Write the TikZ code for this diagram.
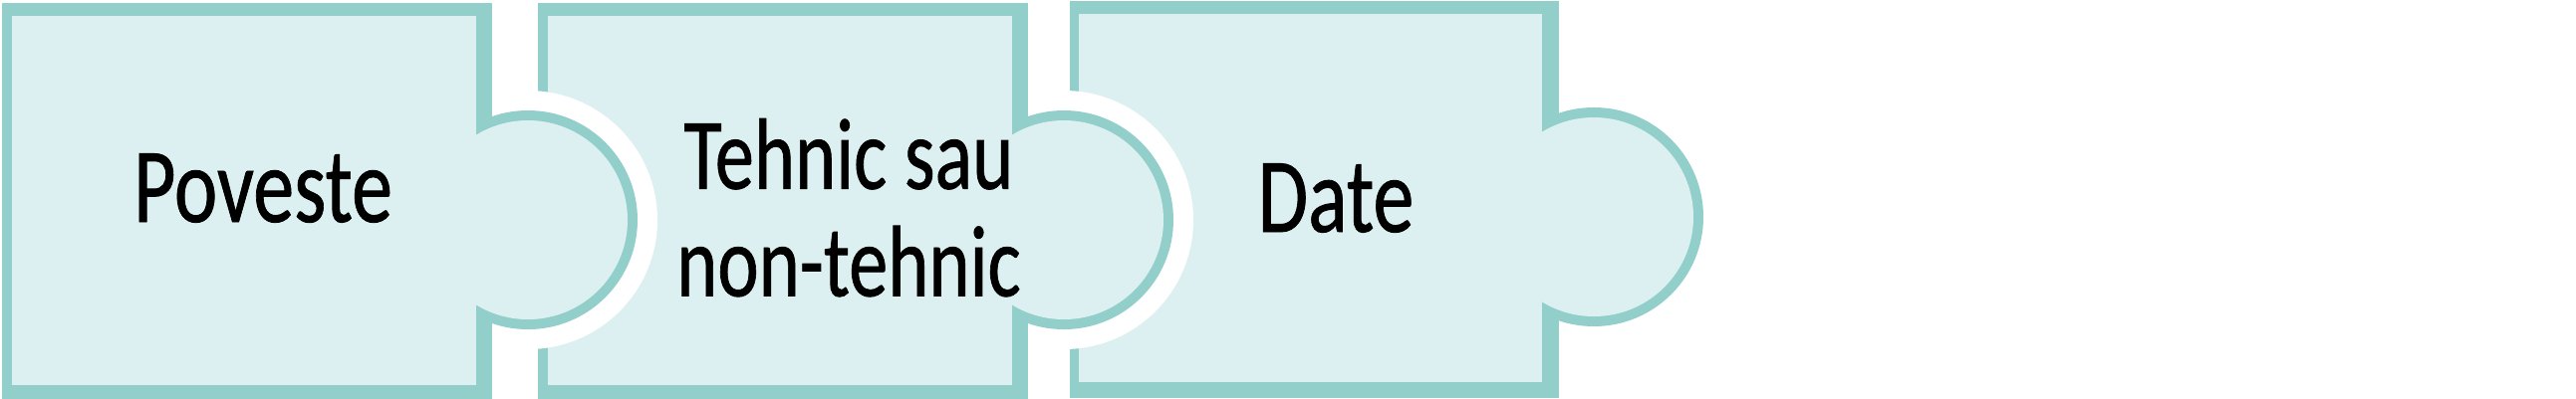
\documentclass[tikz,border=0pt]{standalone}
\usepackage{fontspec}
\setmainfont{Carlito}[FakeBold=0.8]
\usepackage{tikz}
\usetikzlibrary{calc}
\definecolor{piecerim}{RGB}{146,206,202}
\definecolor{piecebody}{RGB}{220,240,241}
\tikzset{
every picture/.style={x=0.1mm, y=-0.1mm},
%%%%%%%%%%  Node styles
emptynode/.style={circle,minimum size=0pt, inner sep=0pt, outer
sep=0},
puzzle_text/.style={inner sep=0pt, outer sep=0pt, anchor=base,
                    yscale=1.3, text=black,
                    font=\fontsize{23.4pt}{24pt}\selectfont},
%%%%%%% Fill styles %%%%%%%%%%%%%%%
rim/.style={fill=piecerim},
body/.style={fill=piecebody},
gap/.style={fill=white}
}

\begin{document}
\begin{tikzpicture}
\useasboundingbox (0,0) rectangle (2586,400);
%%%%%%%%%%%%%%%%%%%%%%%%%%%%%%%%%%%%%%%%%%%%%%%%%%%%
%% third piece, drawn first so the others lie on it
\begin{scope}[shift={(1074,-2)}]
\coordinate (knob3) at (526,220);
\coordinate (notch3) at (-6,223);
%% rim: square, then knob
\fill[rim] (0,3) rectangle (491,402);
\fill[rim] (knob3) circle (110);
%% body: square, then knob
\fill[body] (9,16) rectangle (474,386);
\fill[body] (knob3) circle (100);
%% hole for the knob of the second piece
\fill[gap] (notch3) circle (130);
\end{scope}
%%%%%%%%%%%%%%%%%%%%%%%%%%%%%%%%%%%%%%%%%%%%%%%%%%%%
\begin{scope}[shift={(540,0)}]
\coordinate (knob2) at (528,221);
\coordinate (notch2) at (-10,221);
\fill[rim] (0,3) rectangle (492,402);
\fill[rim] (knob2) circle (110);
\fill[body] (10,16) rectangle (476,387);
\fill[body] (knob2) circle (100);
%% hole for the knob of the first piece
\fill[gap] (notch2) circle (130);
\end{scope}
%%%%%%%%%%%%%%%%%%%%%%%%%%%%%%%%%%%%%%%%%%%%%%%%%%%%
\begin{scope}[shift={(2,0)}]
\coordinate (knob1) at (528,221);
\fill[rim] (0,3) rectangle (492,402);
\fill[rim] (knob1) circle (110);
\fill[body] (10,16) rectangle (476,387);
\fill[body] (knob1) circle (100);
\end{scope}
%%%%%%%%%%%%%%%%%%%%%%%%%%%%%%%%%%%%%%%%%%%%%%%%%%%%
%% labels
\node[puzzle_text] (poveste) at (264,223) {Poveste};
\node[puzzle_text, anchor=north, align=center,
      font=\fontsize{22.3pt}{23.6pt}\selectfont] (tehnic) at (852,119)
      {Tehnic sau\\non-tehnic};
\node[puzzle_text] (date) at (1341,233) {Date};
\end{tikzpicture}
\end{document}
